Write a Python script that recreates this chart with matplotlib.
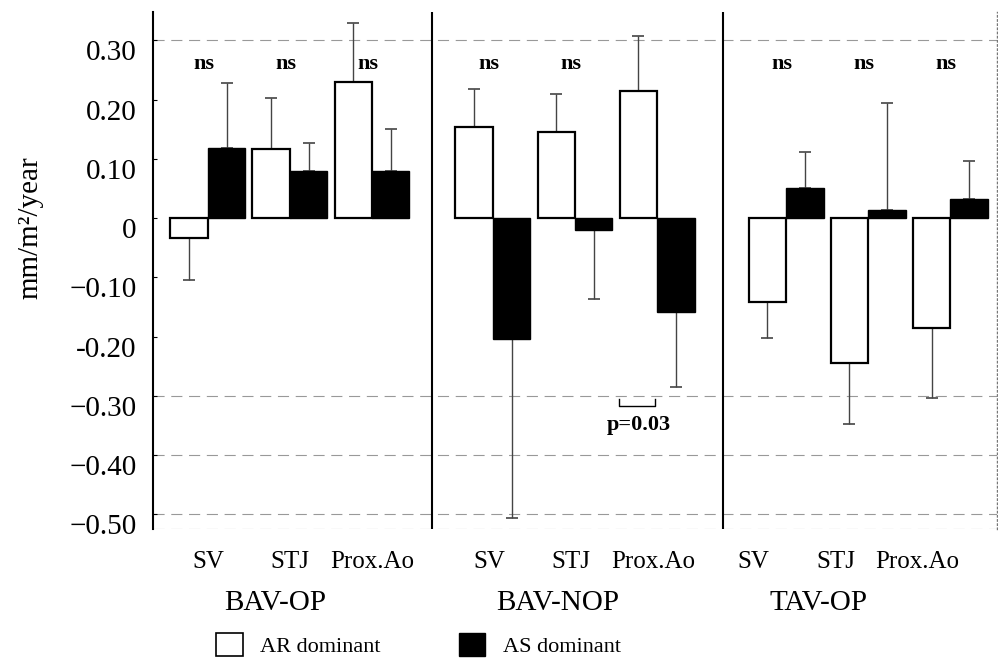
import matplotlib
matplotlib.use("Agg")
import matplotlib.pyplot as plt
import matplotlib.transforms as mtransforms
from matplotlib.patches import Patch

plt.rcParams['font.family'] = ['Liberation Serif', 'DejaVu Serif']

# ---------------- data ----------------
panels = ["BAV-OP", "BAV-NOP", "TAV-OP"]
sites = ["SV", "STJ", "Prox.Ao"]

ar_values = [[-0.034, 0.117, 0.230],
             [0.154, 0.146, 0.215],
             [-0.142, -0.245, -0.186]]
ar_errors = [[0.070, 0.086, 0.100],
             [0.064, 0.063, 0.093],
             [0.061, 0.102, 0.117]]
as_values = [[0.119, 0.079, 0.079],
             [-0.204, -0.020, -0.159],
             [0.050, 0.013, 0.032]]
as_errors = [[0.109, 0.048, 0.072],
             [0.302, 0.116, 0.126],
             [0.062, 0.181, 0.065]]

# significance labels per panel/site ("" = none)
sig_labels = [["ns", "ns", "ns"],
              ["ns", "ns", ""],
              ["ns", "ns", "ns"]]
p_text = "p=0.03"

ytick_values = [-0.50, -0.40, -0.30, -0.20, -0.10, 0, 0.10, 0.20, 0.30]
ytick_labels = ["\u22120.50", "\u22120.40", "\u22120.30", "-0.20", "\u22120.10",
                "0", "0.10", "0.20", "0.30"]

# ---------------- layout ----------------
panel_offsets = [0.0, 3.475, 7.05]
first_center = 0.67
bar_w = 0.457
separators = [3.40, 6.95]
xtick_shift = [0.0, -0.05, -0.40]
panel_label_x = [1.49, 4.94, 8.11]

fig = plt.figure(figsize=(9.98, 6.61), dpi=100)
ax = fig.add_axes([153/998, 1 - 529/661, (997 - 153)/998, (529 - 12)/661])
ax.set_xlim(0, 10.29)
ax.set_ylim(-0.525, 0.348)

# faint dashed reference lines
for yv in [0.30, -0.30, -0.40, -0.50]:
    ax.axhline(yv, color="#999999", lw=0.8, ls=(0, (10, 6)), zorder=0)
ax.axhline(-0.525, color="#999999", lw=0.8, ls=(0, (10, 6)), zorder=0)

xt, xl = [], []
for p in range(3):
    for i in range(3):
        c = panel_offsets[p] + first_center + i
        x_ar = c - bar_w / 2
        x_as = c + bar_w / 2
        v1, e1 = ar_values[p][i], ar_errors[p][i]
        v2, e2 = as_values[p][i], as_errors[p][i]
        yerr1 = [[0], [e1]] if v1 >= 0 else [[e1], [0]]
        yerr2 = [[0], [e2]] if v2 >= 0 else [[e2], [0]]
        ax.errorbar([x_ar], [v1], yerr=yerr1, fmt="none", ecolor="#444444",
                    elinewidth=1.0, capsize=4.5, capthick=1.2, zorder=1)
        ax.errorbar([x_as], [v2], yerr=yerr2, fmt="none", ecolor="#444444",
                    elinewidth=1.0, capsize=4.5, capthick=1.2, zorder=1)
        ax.bar(x_ar, v1, width=bar_w, color="white", edgecolor="black",
               linewidth=1.6, zorder=2)
        ax.bar(x_as, v2, width=bar_w, color="black", edgecolor="black",
               linewidth=1.0, zorder=2)
        if sig_labels[p][i]:
            ax.text(c - 0.05, 0.261, sig_labels[p][i], ha="center", va="center",
                    fontsize=16, fontweight="bold")
        xt.append(c + xtick_shift[p])
        xl.append(sites[i])
    ax.text(panel_label_x[p], -0.143, panels[p], ha="center", va="center",
            fontsize=21, transform=mtransforms.blended_transform_factory(ax.transData, ax.transAxes))

# p-value bracket under BAV-NOP Prox.Ao
pc = panel_offsets[1] + first_center + 2
bx0, bx1 = pc - 0.46, pc - 0.03
ax.plot([bx0, bx0, bx1, bx1], [-0.306, -0.317, -0.317, -0.306], color="black", lw=1.0)
ax.text(pc - 0.22, -0.349, p_text, ha="center", va="center", fontsize=16,
        fontweight="bold")

# separators
for sx in separators:
    ax.axvline(sx, color="black", lw=1.5, zorder=3)

# spines
ax.spines["top"].set_visible(False)
ax.spines["bottom"].set_visible(False)
ax.spines["right"].set_color("#777777")
ax.spines["right"].set_linestyle((0, (1, 2)))
ax.spines["right"].set_linewidth(1.0)
ax.spines["left"].set_linewidth(1.5)

ax.set_yticks(ytick_values)
ax.set_yticklabels(ytick_labels, fontsize=21)
ax.tick_params(axis="y", length=3, direction="in", pad=12)
offset = mtransforms.ScaledTranslation(0, -10 / 100, fig.dpi_scale_trans)
for lab in ax.get_yticklabels():
    lab.set_transform(lab.get_transform() + offset)

ax.set_xticks(xt)
ax.set_xticklabels(xl, fontsize=18)
ax.tick_params(axis="x", length=0, pad=16)

fig.text(30/998, 1 - 228/661, "mm/m\u00b2/year", rotation=90, ha="center",
         va="center", fontsize=21)

handles = [Patch(facecolor="white", edgecolor="black", linewidth=1.2, label="AR dominant"),
           Patch(facecolor="black", edgecolor="black", label="AS dominant")]
fig.legend(handles=handles, loc="upper left", bbox_to_anchor=(207/998, 1 - 624/661),
           ncol=2, frameon=False, fontsize=16, handlelength=1.2, handleheight=1.2,
           handletextpad=0.8, columnspacing=3.5, borderaxespad=0)

fig.savefig("out.png", dpi=100)
